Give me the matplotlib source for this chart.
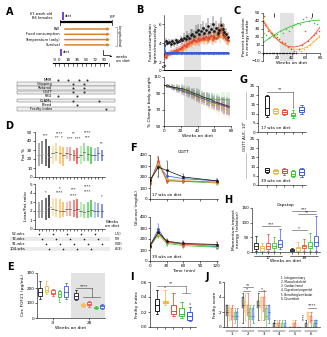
import matplotlib
matplotlib.use('Agg')
import matplotlib.pyplot as plt
import numpy as np
from matplotlib.patches import Rectangle

plt.rcParams.update({
    'font.family': 'DejaVu Sans', 'font.size': 3.0,
    'axes.linewidth': 0.4, 'axes.labelsize': 3.2, 'axes.labelpad': 1.0,
    'xtick.major.width': 0.4, 'ytick.major.width': 0.4,
    'xtick.major.size': 1.2, 'ytick.major.size': 1.2,
    'xtick.major.pad': 0.7, 'ytick.major.pad': 0.7,
    'xtick.labelsize': 3.0, 'ytick.labelsize': 3.0,
})

W, H = 327, 337
fig = plt.figure(figsize=(W / 100, H / 100), dpi=100)

K, O, R, G, B = '#1c1c1c', '#F4B63F', '#EB4A3F', '#35C935', '#3B5BDB'
COLS = [K, O, R, G, B]
SHADE = '#e2e2e2'

# ---------------- DATA ----------------
# A: schematic
timeline_labels = [-9, 0, 18, 36, 54, 72, 90]
long_measures = ['BW', 'Food consumption', 'Temperature (only)', 'Survival']
table_rows = ['NMR', 'Gripping', 'Rotarod', 'OGTT', 'FBG', 'CLAMs', 'Bleed', 'Frailty index']
row_weeks = [[-2, 18, 40, 56], [28, 50], [28, 50], [28, 50], [-2, 36], [28, 80], [36], [94]]
row_boxed = [False, True, True, True, False, True, False, True]

# B: food consumption
weeks_even = [0, 2, 4, 6, 8, 10, 12, 14, 16, 18, 20, 22, 24, 26, 28, 30, 32, 34, 36, 38,
              40, 42, 44, 46, 48, 50, 52, 54, 56, 58, 60, 62, 64, 66, 68, 70, 72, 74, 76]
weeks_odd = [1, 3, 5, 7, 9, 11, 13, 15, 17, 19, 21, 23, 25, 27, 29, 31, 33, 35, 37, 39,
             41, 43, 45, 47, 49, 51, 53, 55, 57, 59, 61, 63, 65, 67, 69, 71, 73, 75, 77]
black_fc = [3.8, 4.2, 4.0, 4.1, 3.9, 4.2, 4.0, 4.3, 4.1, 4.2, 4.4, 4.3, 4.6, 4.5, 4.8, 4.6, 4.9, 5.0, 4.8, 5.2,
            5.4, 5.0, 5.3, 5.6, 5.1, 5.4, 5.8, 5.2, 5.5, 6.0, 5.3, 5.6, 5.1, 5.4, 5.9, 5.5, 5.2, 5.0, 4.7]
black_fc_err = [0.3, 0.4, 0.3, 0.3, 0.4, 0.3, 0.4, 0.3, 0.4, 0.3, 0.4, 0.4, 0.5, 0.4, 0.5, 0.5, 0.6, 0.5, 0.6, 0.7,
                0.6, 0.5, 0.7, 0.8, 0.6, 0.7, 0.9, 0.6, 0.7, 0.9, 0.7, 0.8, 0.6, 0.8, 0.9, 0.7, 0.8, 0.6, 0.5]
red_fc = [2.8, 2.5, 2.9, 3.0, 3.1, 3.0, 3.2, 3.3, 3.2, 3.4, 3.5, 3.6, 3.8, 3.7, 3.9, 4.0, 4.1, 4.2, 4.3, 4.2,
          4.4, 4.3, 4.5, 4.6, 4.4, 4.7, 4.5, 4.6, 4.8, 4.5, 4.7, 4.6, 5.0, 5.2, 5.5, 5.0, 4.8, 4.5, 4.3]
orange_fc = [2.6, 2.7, 2.9, 2.8, 3.0, 3.1, 3.0, 3.2, 3.3, 3.4, 3.3, 3.5, 3.7, 3.9, 3.8, 4.1, 4.0, 4.3, 4.2, 4.4,
             4.2, 4.5, 4.4, 4.6, 4.5, 4.3, 4.6, 4.7, 4.4, 4.8, 4.6, 4.9, 5.1, 4.8, 5.3, 5.1, 4.7, 4.4, 4.2]
restricted_fc_err = [0.2, 0.3, 0.2, 0.3, 0.3, 0.3, 0.3, 0.3, 0.4, 0.3, 0.4, 0.4, 0.4, 0.5, 0.4, 0.5, 0.5, 0.4, 0.5, 0.5,
                     0.5, 0.6, 0.5, 0.5, 0.6, 0.5, 0.6, 0.6, 0.5, 0.7, 0.6, 0.6, 0.7, 0.8, 0.9, 0.7, 0.6, 0.6, 0.5]
blue_fc = [3.7, 3.0, 3.0, 3.0, 3.0, 3.0, 3.0, 3.0, 3.0, 3.0, 3.0, 3.0, 3.0, 3.0, 3.0, 3.0, 3.0, 3.0, 3.0, 3.0,
           3.0, 3.0, 3.0, 3.0, 3.0, 3.0, 3.0, 3.0, 3.0, 3.0, 3.0, 3.0, 3.0, 3.0, 3.0, 3.0, 3.0, 3.0, 3.0]
fc_ticks = [1.15, 2, 4, 6]
fc_ticklabels = ['0', '2', '4', '6']

# B: % change body weight
weeks_bw = [0, 3, 6, 9, 12, 15, 18, 21, 24, 27, 30, 33, 36, 39, 42, 45, 48, 51, 54, 57, 60, 63, 66, 69, 72, 75, 78]
black_bw = [100, 99, 99, 98, 97, 97, 96, 96, 95, 94, 93, 91, 90, 89, 88, 86, 85, 84, 83, 82, 80, 79, 78, 77, 76, 75, 74]
orange_bw = [100, 99, 98, 97, 96, 95, 94, 93, 92, 91, 90, 88, 87, 85, 84, 82, 81, 80, 78, 77, 76, 75, 73, 72, 71, 70, 69]
red_bw = [100, 99, 98, 97, 97, 96, 95, 94, 93, 92, 90, 89, 88, 86, 85, 84, 83, 82, 80, 79, 78, 77, 76, 75, 74, 73, 72]
green_bw = [100, 99, 99, 98, 97, 96, 96, 95, 94, 93, 92, 90, 89, 88, 87, 86, 85, 84, 84, 83, 83, 82, 82, 83, 82, 82, 82]
blue_bw = [100, 99, 98, 97, 96, 95, 94, 93, 92, 91, 90, 89, 88, 87, 85, 84, 83, 82, 81, 80, 79, 78, 77, 76, 75, 74, 73]
bw_err = [1, 2, 2, 3, 3, 4, 4, 5, 5, 5, 6, 6, 6, 7, 7, 7, 7, 8, 8, 8, 8, 9, 9, 9, 10, 10, 10]

# C: percent reduction in energy intake
c_black_weeks = [0, 2, 4, 6, 8, 10, 12, 14, 16, 18, 20, 22, 24, 26, 28, 30, 32, 34, 36, 38, 40, 42, 44, 46]
c_black_vals = [0, 0, 0, 0, 0, 0, 0, 0, 0, 0, 0, 0, 0, 0, 0, 0, 0, 0, 0, 0, 0, 0, 0, 0]
c_green_weeks = [0, 4, 8, 12, 16, 20, 24, 28, 32, 36, 40, 44, 48, 52, 56, 60, 64, 68, 72, 76]
c_green_vals = [20, 22, 19, 25, 21, 24, 27, 25, 30, 28, 32, 35, 38, 36, 42, 45, 40, 44, 38, 36]
c_orange_weeks = [0, 2, 6, 10, 14, 18, 22, 26, 30, 34, 38, 42, 46, 50, 54, 58, 62, 66, 70, 74, 78]
c_orange_vals = [42, 25, 32, 28, 20, 22, 18, 15, 12, 10, 8, 5, 2, 0, 3, 5, 8, 10, 15, 18, 20]
c_red_weeks = [1, 3, 7, 11, 15, 19, 23, 27, 31, 35, 39, 43, 47, 51, 55, 59, 63, 67, 71, 75, 79]
c_red_vals = [46, 35, 28, 25, 22, 20, 18, 14, 12, 8, 5, 2, 0, 5, 10, 28, 15, 20, 22, 25, 28]
c_marks = [15, 69]

# D: NMR body composition (min, max, mean per group x timepoint)
d_timepoints = ['52-wks', '72-wks', '91-wks', '104-wks']
d_weeks_label = ['(-5)', '(9)', '(30)', '(43)']
fat_min = [[12, 15, 12, 10], [15, 18, 15, 12], [20, 18, 18, 15], [15, 18, 18, 15], [18, 18, 18]]
fat_max = [[38, 40, 42, 35], [35, 38, 35, 33], [33, 33, 30, 32], [35, 38, 35, 33], [32, 33, 30]]
fat_mean = [[25, 26, 26, 22], [27, 28, 27, 24], [27, 26, 24, 22], [25, 28, 26, 24], [25, 27, 25]]
lf_min = [[1.2, 1.2, 1.0, 1.2], [1.5, 1.3, 1.2, 1.3], [1.5, 1.4, 1.3, 1.2], [1.3, 1.2, 1.2, 1.3], [1.2, 1.3, 1.2]]
lf_max = [[3.0, 3.2, 3.5, 3.8], [3.5, 3.4, 3.3, 3.0], [3.0, 3.1, 3.2, 3.3], [3.0, 2.8, 3.0, 3.2], [3.0, 2.9, 2.8]]
lf_mean = [[2.0, 2.0, 2.1, 2.5], [2.2, 2.1, 2.0, 2.0], [2.2, 2.2, 2.1, 2.2], [2.0, 1.9, 2.0, 2.1], [2.0, 2.0, 2.0]]

# E: FGF21 boxes (whislo, q1, med, q3, whishi)
e_pre = [[125, 150, 175, 200, 250], [160, 175, 190, 215, 250], [150, 160, 170, 185, 195],
         [105, 140, 160, 180, 190], [130, 140, 175, 215, 235]]
e_post = [[120, 130, 145, 165, 185], [75, 78, 85, 95, 100], [75, 85, 95, 105, 115],
          [60, 65, 70, 75, 80], [60, 70, 78, 90, 95]]
e_ticklabels = ['-9', '28']

# F: OGTT
f_time = [0, 15, 30, 60, 120]
f17 = [[170, 290, 260, 200, 165], [140, 330, 180, 170, 150], [150, 345, 165, 160, 155],
       [160, 320, 170, 160, 145], [165, 310, 210, 185, 165]]
f17_err = [[10, 90, 90, 30, 20], [15, 40, 20, 15, 15], [15, 35, 20, 15, 15],
           [15, 40, 20, 15, 15], [15, 40, 25, 15, 15]]
f39 = [[140, 260, 180, 160, 150], [130, 250, 170, 150, 140], [135, 260, 175, 150, 145],
       [130, 240, 160, 140, 125], [140, 290, 170, 155, 130]]
f39_err = [[15, 30, 20, 20, 20], [15, 30, 20, 20, 20], [15, 30, 20, 20, 20],
           [15, 30, 20, 20, 20], [15, 45, 20, 20, 20]]

# G: OGTT AUC boxes
g17 = [[8, 9, 13, 19.5, 20], [10, 10.5, 11.5, 12.5, 13], [9.5, 10, 11, 12, 12.5],
       [7.5, 8.5, 9.5, 10.5, 12], [10, 11, 12, 13.5, 14.5]]
g39 = [[6.5, 7, 8, 9, 9.5], [6, 6.5, 7.5, 8, 8.5], [5.5, 6.5, 7.5, 8.5, 9.5],
       [4.5, 5, 6, 7.5, 8], [4.5, 5.5, 7, 8.5, 9.5]]

# H: Capstop momentum impact energy
h17 = [[2, 10, 20, 30, 55], [0, 5, 12, 20, 30], [3, 10, 22, 30, 62], [5, 12, 20, 32, 50], [10, 18, 28, 40, 80]]
h39 = [[0, 3, 6, 10, 15], [0, 5, 12, 18, 35], [5, 12, 20, 25, 45], [5, 15, 22, 35, 65], [5, 20, 35, 55, 122]]
h_groups = ['17', '39']

# I: frailty index
i_stats = [[0.17, 0.22, 0.30, 0.38, 0.49], [0.30, 0.32, 0.33, 0.35, 0.50], [0.15, 0.18, 0.22, 0.30, 0.45],
           [0.12, 0.15, 0.18, 0.25, 0.33], [0.08, 0.10, 0.15, 0.20, 0.27]]

# J: frailty score per system (lists over 6 systems)
j_systems = ['1. Integumentary', '2. Musculoskeletal', '3. Cardiac/renal',
             '4. Digestive/urogenital', '5. Breathing/vestibular', '6. Discomfort']
j_lo = [[0, 0.5, 1, 0, 0, 0], [1, 1, 1, 0, 0, 0], [0, 0, 1, 0, 0, 0], [0.5, 0, 0, 0, 0, 0], [0, 0.5, 0.5, 0, 0, 0]]
j_q1 = [[1.5, 2.5, 2.5, 0, 0, 0], [1.5, 2, 2.5, 0, 0, 1], [1, 1.5, 2, 0, 0, 0.5], [1, 1, 1, 0, 0, 0], [1, 1, 1, 0, 0, 0]]
j_med = [[2, 3, 3, 0.5, 0, 0], [2, 3, 3, 0, 0, 1.5], [1.5, 2, 3, 0, 0, 1], [1.5, 1.5, 1.5, 0, 0, 0], [1.5, 1.5, 2, 0, 0, 0.5]]
j_q3 = [[3, 4, 3.5, 0.5, 0, 0.5], [2.5, 3.5, 4, 0.5, 0.5, 2], [2.5, 3, 4, 0.5, 0.5, 1.5], [2, 2.5, 2.5, 0.5, 0, 0.5], [2, 2.5, 3, 0.5, 0, 1]]
j_hi = [[3, 4.5, 4.5, 1, 0, 1], [3, 4.5, 4, 1, 1, 2], [3, 4.5, 5, 1, 1, 2], [2.5, 3, 3, 1, 0, 1], [2.5, 3, 3, 1, 0, 1]]


# ---------------- helpers ----------------
def add_ax(x0, y0, x1, y1):
    return fig.add_axes([x0 / W, 1 - y1 / H, (x1 - x0) / W, (y1 - y0) / H])


def clean(ax):
    ax.spines['top'].set_visible(False)
    ax.spines['right'].set_visible(False)


def letter(x, y, s):
    fig.text(x / W, 1 - y / H, s, fontsize=7, fontweight='bold', ha='center', va='center')


def boxes(ax, stats, positions, width, fill=False, lw=0.55, alpha=0.45):
    st = [dict(whislo=s[0], q1=s[1], med=s[2], q3=s[3], whishi=s[4]) for s in stats]
    bp = ax.bxp(st, positions=positions, widths=width, showfliers=False, patch_artist=True,
                manage_ticks=False)
    for i, c in enumerate([COLS[k % 5] for k in range(len(stats))]):
        bp['boxes'][i].set_edgecolor(c)
        bp['boxes'][i].set_linewidth(lw)
        if fill:
            bp['boxes'][i].set_facecolor(matplotlib.colors.to_rgba(c, alpha))
        else:
            bp['boxes'][i].set_facecolor('white')
        bp['medians'][i].set_color(c)
        bp['medians'][i].set_linewidth(lw)
        for w in bp['whiskers'][2 * i:2 * i + 2] + bp['caps'][2 * i:2 * i + 2]:
            w.set_color(c)
            w.set_linewidth(lw * 0.8)
    return bp


def bracket(ax, x0, x1, y, txt, drop=None, fs=3.0, lw=0.4):
    ax.plot([x0, x1], [y, y], color='#444444', lw=lw, clip_on=False)
    if drop is not None:
        ax.plot([x1, x1], [y, drop], color='#444444', lw=lw, clip_on=False)
    ax.text((x0 + x1) / 2, y, txt, ha='center', va='bottom', fontsize=fs, clip_on=False)


# ---------------- Panel A ----------------
letter(10, 12, 'A')
axA = add_ax(0, 5, 125, 118)
px2wk = lambda px: (px - 59.0) / 0.5
axA.set_xlim(px2wk(0), px2wk(125))
axA.set_ylim(118, 5)
axA.axis('off')
axA.text(px2wk(52), 16, '67-week old\nB6 females', ha='right', va='center', fontsize=2.6, linespacing=1.1)
axA.plot([px2wk(63), px2wk(63)], [13, 19], color='#7b3fd0', lw=1.4)
axA.text(px2wk(65), 16, 'diet', fontsize=2.6, va='center')
axA.plot([px2wk(60), px2wk(112)], [22, 22], color='black', lw=1.6, solid_capstyle='butt')
axA.plot([px2wk(60), px2wk(60)], [19.5, 24.5], color='black', lw=0.5)
axA.plot([px2wk(112), px2wk(112)], [19.5, 24.5], color='black', lw=0.5)
axA.text(px2wk(112), 17, 'KIP', fontsize=2.6, ha='center', va='center')
for i, lab in enumerate(long_measures):
    y = 29 + 5.3 * i
    axA.annotate('', xy=(px2wk(113), y), xytext=(px2wk(62), y),
                 arrowprops=dict(arrowstyle='-|>', color='#D9822B', lw=1.1, mutation_scale=3))
    axA.text(px2wk(60), y, lab, ha='right', va='center', fontsize=2.6)
axA.plot([px2wk(115), px2wk(116.5), px2wk(116.5), px2wk(115)], [27, 27, 46, 46], color='#777777', lw=0.4)
axA.text(px2wk(119), 36.5, 'Longitudinal', rotation=270, ha='center', va='center', fontsize=2.5)
axA.plot([px2wk(103), px2wk(103), px2wk(109)], [50, 55, 55], color='black', lw=0.5)
axA.annotate('', xy=(px2wk(112), 57), xytext=(px2wk(108), 55),
             arrowprops=dict(arrowstyle='-|>', color='black', lw=0.4, mutation_scale=2.5))
axA.text(px2wk(116), 59.5, 'weeks\non diet', fontsize=2.8, ha='left', va='center', linespacing=1.0)
axA.plot([px2wk(61), px2wk(61)], [50, 55], color='#7b3fd0', lw=1.4)
axA.text(px2wk(63), 52, 'diet', fontsize=2.6, va='center')
axA.plot([px2wk(53), px2wk(107)], [63, 63], color='black', lw=0.8)
for w in [-9, 0, 9, 18, 27, 36, 45, 54, 63, 72, 81, 90, 99]:
    axA.plot([w, w], [63, 66], color='black', lw=0.4)
for w in timeline_labels:
    axA.text(w, 60, str(w), ha='center', va='center', fontsize=2.8)
row_y = [80, 84.1, 88.2, 92.3, 96.4, 100.5, 104.6, 108.7]
for lab, wks, boxed, y in zip(table_rows, row_weeks, row_boxed, row_y):
    if boxed:
        axA.add_patch(Rectangle((px2wk(17), y - 1.8), px2wk(115) - px2wk(17), 3.6,
                                facecolor='#eeeeee', edgecolor='#777777', lw=0.35))
    axA.text(px2wk(52), y, lab, ha='right', va='center', fontsize=2.6)
    axA.scatter(wks, [y] * len(wks), s=2.2, color='#333333', zorder=3, linewidths=0)

# ---------------- Panel B ----------------
letter(140, 10, 'B')
axB1 = add_ax(164, 15, 231, 70)
clean(axB1)
axB1.axvspan(24, 44, color=SHADE, zorder=0, lw=0)
axB1.errorbar(weeks_even, black_fc, yerr=black_fc_err, fmt='o', ms=1.0, color=K, ecolor=K,
              elinewidth=0.35, lw=0, zorder=3)
axB1.errorbar(weeks_odd, orange_fc, yerr=restricted_fc_err, fmt='o', ms=1.0, color='#F39A1E',
              ecolor='#F39A1E', elinewidth=0.35, lw=0, zorder=2)
axB1.errorbar(weeks_even, red_fc, yerr=restricted_fc_err, fmt='o', ms=1.0, color=R, ecolor=R,
              elinewidth=0.35, lw=0, zorder=2)
axB1.plot(weeks_even, blue_fc, color=B, lw=0.9, marker='o', ms=0.9, zorder=4)
axB1.set_xlim(0, 80)
axB1.set_ylim(1.15, 7.0)
axB1.set_yticks(fc_ticks)
axB1.set_yticklabels(fc_ticklabels)
axB1.set_xticks([0, 20, 40, 60, 80])
axB1.set_xticklabels([])
axB1.tick_params(axis='x', length=0)
axB1.spines['bottom'].set_linewidth(0.7)
for yb in [1.45, 1.6]:
    axB1.plot([-2.2, 2.2], [yb - 0.08, yb + 0.08], color='black', lw=0.4, clip_on=False)
axB1.set_ylabel('Food consumption\n(grams/mouse/day)', fontsize=3.0, linespacing=1.1)

axB2 = add_ax(164, 77, 231, 126)
clean(axB2)
axB2.axvspan(24, 44, color=SHADE, zorder=0, lw=0)
for vals, c in zip([black_bw, orange_bw, red_bw, green_bw, blue_bw], COLS):
    axB2.errorbar(weeks_bw, vals, yerr=bw_err, fmt='-', color=c, lw=0.5, elinewidth=0.35,
                  ecolor=matplotlib.colors.to_rgba(c, 0.6), zorder=3 if c == K else 2)
axB2.set_xlim(0, 80)
axB2.set_ylim(50, 110)
axB2.set_yticks([50, 70, 90, 110])
axB2.set_xticks([0, 20, 40, 60, 80])
axB2.set_xlabel('Weeks on diet', labelpad=0.8)
axB2.set_ylabel('% Change body weight')

# ---------------- Panel C ----------------
letter(237, 11, 'C')
axC = add_ax(263, 13, 320, 61)
clean(axC)
axC.axvspan(24, 44, color=SHADE, zorder=0, lw=0)
axC.spines['bottom'].set_position(('data', 0))
axC.scatter(c_black_weeks, c_black_vals, s=1.0, color=K, zorder=4, linewidths=0)
for wk, vals, c in [(c_green_weeks, c_green_vals, G), (c_orange_weeks, c_orange_vals, O),
                    (c_red_weeks, c_red_vals, R)]:
    axC.scatter(wk, vals, s=1.2, color=c, zorder=3, linewidths=0)
    coef = np.polyfit(wk[2:], vals[2:], 2)
    xs = np.linspace(0, 80, 60)
    axC.plot(xs, np.polyval(coef, xs), color=c, lw=0.6, zorder=2)
axC.scatter(c_marks, [48, 48], marker='|', s=6, color=K, linewidths=0.6)
axC.set_xlim(0, 80)
axC.set_ylim(-10, 50)
axC.set_yticks([-10, 0, 10, 20, 30, 40, 50])
axC.set_xticks([0, 20, 40, 60, 80])
axC.set_xticklabels(['', '20', '40', '60', '80'])
axC.set_xlabel('Weeks on diet', labelpad=0.8)
axC.set_ylabel('Percent reduction\nin energy intake', linespacing=1.1)

# ---------------- Panel D ----------------
letter(9, 126, 'D')
d_off = 3.6 / 14


def dpos(g, t):
    return g + (t - 1.5) * d_off


all_pos = [dpos(g, t) for g in range(5) for t in range(len(fat_mean[g]))]
axD1 = add_ax(35, 132, 105, 177)
axD2 = add_ax(35, 184, 105, 229)
for ax, mn, mx, me, ylim, yt in [(axD1, fat_min, fat_max, fat_mean, (0, 50), [0, 10, 20, 30, 40, 50]),
                                 (axD2, lf_min, lf_max, lf_mean, (0, 5), [0, 1, 2, 3, 4, 5])]:
    clean(ax)
    for g in range(5):
        for t in range(len(me[g])):
            x = dpos(g, t)
            ax.plot([x, x], [mn[g][t], mx[g][t]], color=COLS[g], lw=1.1,
                    alpha=0.45 + 0.18 * t, solid_capstyle='butt')
            ax.plot([x - 0.09, x + 0.09], [me[g][t], me[g][t]], color='#555555' if g else '#999999', lw=0.5)
    ax.set_xlim(-0.64, 4.36)
    ax.set_ylim(*ylim)
    ax.set_yticks(yt)
    ax.set_xticks(all_pos)
    ax.set_xticklabels([])
axD1.set_ylabel('Fat %')
axD2.set_ylabel('Lean/Fat ratio')
for g, y, s in [(0, 44, '***'), (1, 46, '****'), (1, 41, '**  *'), (2, 46, '**'), (2, 40, '***  ***'),
                (3, 47, '****'), (3, 42, '***'), (4, 35, '**')]:
    axD1.text(g + 0.1, y, s, fontsize=2.6, ha='center', va='bottom')
for g, y, s in [(0, 3.9, '*'), (1, 4.3, '*'), (1, 3.8, '****'), (2, 4.2, '***'), (2, 3.5, '****'),
                (3, 4.5, '****'), (3, 4.0, '****'), (4, 3.4, '*')]:
    axD2.text(g + 0.1, y, s, fontsize=2.6, ha='center', va='bottom')
fig.text(112 / W, 1 - 224 / H, 'Weeks\non diet', fontsize=2.9, ha='center', va='center', linespacing=1.0)

axT = add_ax(35, 231, 105, 252)
axT.set_xlim(-0.64, 4.36)
axT.set_ylim(252, 231)
axT.axis('off')
for t, (lab, wl) in enumerate(zip(d_timepoints, d_weeks_label)):
    y = 234 + 5 * t
    if t % 2 == 1:
        axT.add_patch(Rectangle((-2.43, y - 2.3), 7.15, 4.6, facecolor='#ebebeb', edgecolor='none',
                                clip_on=False, zorder=0))
    axT.text(-1.35, y, lab, ha='right', va='center', fontsize=2.7, clip_on=False)
    axT.text(5.05, y, wl, ha='left', va='center', fontsize=2.7, clip_on=False)
    xs = [dpos(g, t) for g in range(5) if t < len(fat_mean[g])]
    axT.scatter(xs, [y] * len(xs), marker='+', s=2.5, color='#222222', linewidths=0.4, clip_on=False)

# ---------------- Panel E ----------------
letter(10, 267, 'E')
axE = add_ax(37, 273, 105, 318)
clean(axE)
axE.axvspan(4.77, 10, color=SHADE, zorder=0, lw=0)
e_pos_pre = [0, 1, 2, 3, 4]
e_pos_post = [5.6, 6.6, 7.6, 8.6, 9.6]
boxes(axE, e_pre, e_pos_pre, 0.6, lw=0.6)
boxes(axE, e_post, e_pos_post, 0.6, lw=0.6)
axE.set_xlim(-0.46, 10)
axE.set_ylim(0, 300)
axE.set_yticks([0, 100, 200, 300])
axE.set_xticks([2, 7.6])
axE.set_xticklabels(e_ticklabels)
axE.set_xlabel('Weeks on diet', labelpad=0.8)
axE.set_ylabel('Circ FGF21 (pg/mL)')
axE.plot([5.6, 8.0], [200, 200], color='#444444', lw=0.4)
axE.plot([8.0, 8.0], [200, 143], color='#444444', lw=0.4)
axE.plot([6.6, 9.2], [143, 143], color='#444444', lw=0.4)
axE.text(6.8, 200, '****', fontsize=3.0, ha='center', va='bottom')

# ---------------- Panel F ----------------
letter(133, 148, 'F')
axF1 = add_ax(150, 155, 218, 199)
axF2 = add_ax(150, 217, 218, 261)
for ax, data, err, lab in [(axF1, f17, f17_err, '17 wks on diet'), (axF2, f39, f39_err, '39 wks on diet')]:
    clean(ax)
    for g in [4, 3, 1, 2, 0]:
        ax.errorbar(f_time, data[g], yerr=err[g], color=COLS[g], lw=0.55, marker='o', ms=1.0,
                    elinewidth=0.4, capsize=0.6, capthick=0.3)
    ax.set_xlim(0, 122)
    ax.set_ylim(0, 400)
    ax.set_yticks([0, 100, 200, 300, 400])
    ax.set_xticks([0, 30, 60, 90, 120])
    ax.text(4, 35, lab, fontsize=2.9, ha='left', va='center')
axF1.set_xticklabels([])
axF1.set_title('OGTT', fontsize=3.2, pad=1.5)
axF2.set_xlabel('Time (min)', labelpad=0.8)
fig.text(137 / W, 1 - 208 / H, 'Glucose (mg/dL)', rotation=90, fontsize=3.1, ha='center', va='center')

# ---------------- Panel G ----------------
letter(244, 80, 'G')
g_pos = [1, 2, 3, 4, 5]
axG1 = add_ax(258, 86, 306, 132)
axG2 = add_ax(258, 139, 306, 185)
for ax, st, lab in [(axG1, g17, '17 wks on diet'), (axG2, g39, '39 wks on diet')]:
    clean(ax)
    boxes(ax, st, g_pos, 0.55, lw=0.7)
    ax.set_xlim(-0.03, 5.5)
    ax.set_ylim(0, 25)
    ax.set_yticks([0, 5, 10, 15, 20, 25])
    ax.set_xticks(g_pos)
    ax.set_xticklabels([])
    ax.text(0.3, 2.0, lab, fontsize=2.9, ha='left', va='center')
bracket(axG1, 1, 4, 22, '**', drop=13)
fig.text(245.5 / W, 1 - 136 / H, 'OGTT AUC, 10³', rotation=90, fontsize=2.9, ha='center', va='center')
fig.add_artist(plt.Line2D([245.5 / W, 245.5 / W], [1 - 92 / H, 1 - 119 / H], color='#aaaaaa', lw=0.5))
fig.add_artist(plt.Line2D([245.5 / W, 245.5 / W], [1 - 153 / H, 1 - 178 / H], color='#aaaaaa', lw=0.5))

# ---------------- Panel H ----------------
letter(228, 200, 'H')
axH = add_ax(252, 208, 320, 252)
clean(axH)
h_pos17 = [0, 1, 2, 3, 4]
h_pos39 = [6, 7, 8, 9, 10]
boxes(axH, h17, h_pos17, 0.65, lw=0.6)
boxes(axH, h39, h_pos39, 0.65, lw=0.6)
axH.set_xlim(-0.7, 10.7)
axH.set_ylim(0, 150)
axH.set_yticks([0, 50, 100, 150])
axH.set_xticks(h_pos17 + h_pos39)
axH.set_xticklabels([])
axH.set_title('Capstop', fontsize=3.2, pad=1.5)
axH.set_ylabel('Momentum impact\nenergy (relative)', linespacing=1.1)
for pos, lab in [(h_pos17, h_groups[0]), (h_pos39, h_groups[1])]:
    axH.plot([pos[0] - 0.4, pos[-1] + 0.4], [-12, -12], color='black', lw=0.4, clip_on=False)
    axH.text(np.mean(pos), -20, lab, fontsize=3.0, ha='center', va='center', clip_on=False)
axH.text(5, -30, 'Weeks on diet', fontsize=3.2, ha='center', va='center', clip_on=False)
bracket(axH, 1, 4, 88, '***')
bracket(axH, 6, 10, 140, '***')
bracket(axH, 7, 10, 128, '**')
bracket(axH, 6, 8.5, 75, '*')

# ---------------- Panel I ----------------
letter(132, 277, 'I')
axI = add_ax(150, 282, 196, 327)
clean(axI)
i_pos = [1, 2, 3, 4, 5]
boxes(axI, i_stats, i_pos, 0.6, lw=0.7)
axI.set_xlim(0.15, 5.75)
axI.set_ylim(0, 0.6)
axI.set_yticks([0, 0.2, 0.4, 0.6])
axI.set_yticklabels(['0.0', '0.2', '0.4', '0.6'])
axI.set_xticks(i_pos)
axI.set_xticklabels([])
axI.set_ylabel('Frailty index')
axI.plot([1, 4.5], [0.55, 0.55], color='#555555', lw=0.4)
axI.plot([4.5, 4.5], [0.55, 0.45], color='#555555', lw=0.4)
axI.plot([4, 5], [0.45, 0.45], color='#555555', lw=0.4)
axI.text(2.7, 0.55, '**', fontsize=3.0, ha='center', va='bottom')
axI.text(2, 0.51, 'a', fontsize=2.8, ha='center', va='bottom', color='#666666')
axI.text(5, 0.28, 'a', fontsize=2.8, ha='center', va='bottom', color='#666666')

# ---------------- Panel J ----------------
letter(207, 277, 'J')
axJ = add_ax(224, 282, 320, 327)
clean(axJ)
j_off = 0.165
j_ticks = []
for g in range(5):
    st = [[j_lo[g][k], j_q1[g][k], j_med[g][k], j_q3[g][k], j_hi[g][k]] for k in range(6)]
    pos = [k + 1 + (g - 2) * j_off for k in range(6)]
    j_ticks += pos
    sd = [dict(whislo=s[0], q1=s[1], med=s[2], q3=s[3], whishi=s[4]) for s in st]
    bp = axJ.bxp(sd, positions=pos, widths=0.13, showfliers=False, patch_artist=True, manage_ticks=False)
    c = COLS[g]
    for bx in bp['boxes']:
        bx.set_facecolor(matplotlib.colors.to_rgba(c, 0.45))
        bx.set_edgecolor(matplotlib.colors.to_rgba(c, 0.8))
        bx.set_linewidth(0.3)
    for m in bp['medians']:
        m.set_color(c)
        m.set_linewidth(0.5)
    for w in bp['whiskers'] + bp['caps']:
        w.set_color(c)
        w.set_linewidth(0.4)
axJ.set_xlim(0.49, 6.57)
axJ.set_ylim(0, 6)
axJ.set_yticks([0, 2, 4, 6])
axJ.set_xticks(j_ticks)
axJ.set_xticklabels([])
axJ.tick_params(axis='x', length=0.8, width=0.3)
axJ.set_ylabel('Frailty score')
for k in range(6):
    axJ.plot([k + 1 - 0.38, k + 1 + 0.38], [-0.5, -0.5], color='black', lw=0.35, clip_on=False)
    axJ.text(k + 1, -0.95, str(k + 1), fontsize=2.8, ha='center', va='center', clip_on=False)
fig.text(281 / W, 1 - 276 / H, '\n'.join(j_systems), fontsize=2.0, ha='left', va='top', linespacing=1.05)
bracket(axJ, 2 - 2 * j_off, 2 + 2 * j_off, 5.3, '**')
bracket(axJ, 2 - 2 * j_off, 2 + 1 * j_off, 4.8, '*')
bracket(axJ, 3 - 2 * j_off, 3 + 1 * j_off, 4.8, '*')
bracket(axJ, 6 - 1 * j_off, 6 + 2 * j_off, 2.6, '****')
axJ.text(6 - 2.6 * j_off, 1.5, '****', fontsize=2.6, rotation=90, ha='center', va='center')

fig.savefig('out.png', dpi=100)
